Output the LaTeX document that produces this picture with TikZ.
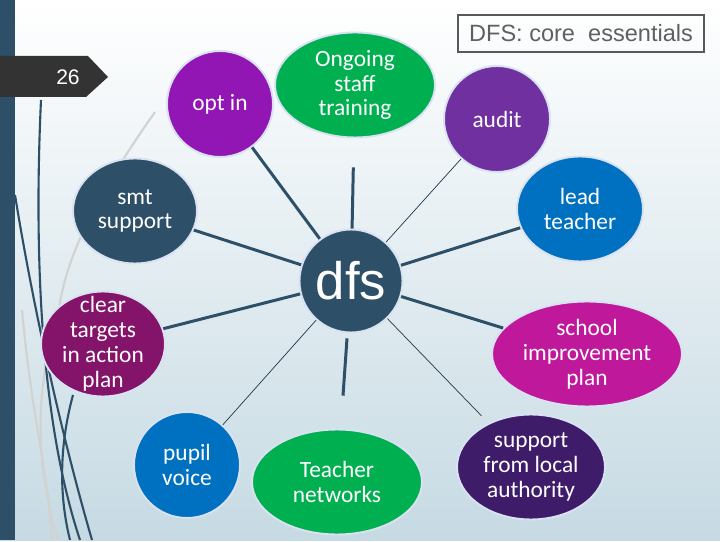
\documentclass[tikz,border=0pt]{standalone}
\usepackage{fontspec}
\setmainfont{Carlito}
\newfontfamily\arialfont{Liberation Sans}
\usetikzlibrary{shapes,arrows}
\definecolor{dfsblue}{HTML}{2D4F67}
\definecolor{optpurple}{HTML}{9216B4}
\definecolor{auditpurple}{HTML}{7030A0}
\definecolor{dfsgreen}{HTML}{00B050}
\definecolor{leadblue}{HTML}{0070C0}
\definecolor{targetplum}{HTML}{84146A}
\definecolor{schoolpink}{HTML}{C0189A}
\definecolor{lapurple}{HTML}{3E1C6A}
\definecolor{rim}{HTML}{D8E2F2}
\definecolor{bgmid}{HTML}{E3EDF1}
\definecolor{bgbottom}{HTML}{C6DAE3}
\definecolor{tabgray}{HTML}{333333}
\tikzstyle{bubble} = [circle, draw=rim, line width=1.1pt, text=white, align=center,
    inner sep=0pt, minimum size=21.2mm, font=\fontsize{13.3}{14.2}\selectfont]
\tikzstyle{oval} = [ellipse, draw=rim, line width=1.1pt, text=white, align=center,
    inner sep=0pt, minimum height=21mm, font=\fontsize{13.3}{14.2}\selectfont]
\tikzstyle{spoke} = [draw, line width=1.7pt, dfsblue]
\tikzstyle{thin_spoke} = [draw, line width=0.4pt, dfsblue!70!black]
\tikzstyle{wisp} = [draw, line width=1.2pt, dfsblue]
\tikzstyle{wisp_gray} = [draw, line width=1.2pt, gray!35]

\begin{document}
\begin{tikzpicture}[x=0.2mm, y=-0.2mm]
    % Background
    \shade [top color=white, middle color=bgmid, bottom color=bgbottom] (0,0) rectangle (720,540);
    \fill [dfsblue] (0,0) rectangle (15,540);
    \path [wisp_gray] (155,112) .. controls (100,190) and (62,260) .. (58,320);
    \path [wisp_gray] (58,320) .. controls (30,400) and (40,480) .. (58,540);
    \path [wisp_gray] (22,310) .. controls (32,420) and (48,470) .. (52,540);
    \path [wisp] (41,100) .. controls (34,250) and (40,420) .. (80,540);
    \path [wisp] (15,195) .. controls (32,300) and (60,430) .. (92,540);
    \path [wisp] (73,395) .. controls (58,450) and (60,500) .. (70,540);
    \fill [tabgray] (0,56) -- (88,56) -- (108,77) -- (86,97) -- (0,97) -- cycle;
    \node [text=white, font=\arialfont\fontsize{12}{14}\selectfont] (page) at (68,77) {26};

    % Place nodes
    \node [draw=gray!70!black, line width=0.6pt, text=gray!75!black, inner sep=0pt,
        minimum width=49.2mm, minimum height=7.4mm,
        font=\arialfont\fontsize{13.4}{16}\selectfont] (title) at (581,33.5) {DFS: core\ \ essentials};
    \node [bubble, fill=dfsblue, minimum size=20.6mm, font=\arialfont\fontsize{30}{32}\selectfont] (dfs) at (351,281) {dfs};
    \node [bubble, fill=optpurple] (optin) at (220,104) {opt in};
    \node [oval, fill=dfsgreen, minimum width=32mm] (training) at (355,85) {Ongoing\\staff\\training};
    \node [bubble, fill=auditpurple] (audit) at (497,119) {audit};
    \node [oval, fill=leadblue, minimum width=25.2mm] (lead) at (580,209) {lead\\teacher};
    \node [oval, fill=dfsblue, minimum width=24.8mm] (smt) at (135,211) {smt\\support};
    \node [oval, fill=targetplum, minimum width=24.8mm, inner sep=-3mm] (targets) at (103,344) {clear\\targets\\in action\\plan};
    \node [oval, fill=schoolpink, minimum width=38mm] (sip) at (587,354) {school\\improvement\\plan};
    \node [bubble, fill=leadblue] (pupil) at (187,465) {pupil\\voice};
    \node [oval, fill=dfsgreen, minimum width=34mm] (networks) at (337,482) {Teacher\\networks};
    \node [oval, fill=lapurple, minimum width=29.6mm] (la) at (531,467) {support\\from local\\authority};

    % Draw edges
    \path [spoke] (dfs) -- (optin);
    \path [spoke, shorten >=5.8mm] (dfs) -- (training);
    \path [thin_spoke] (dfs) -- (audit);
    \path [spoke] (dfs) -- (lead);
    \path [spoke] (dfs) -- (smt);
    \path [spoke] (dfs) -- (targets);
    \path [spoke] (dfs) -- (sip);
    \path [thin_spoke] (dfs) -- (pupil);
    \path [spoke, shorten <=1mm, shorten >=6.6mm] (dfs) -- (networks);
    \path [thin_spoke, shorten >=2mm] (dfs) -- (la);
\end{tikzpicture}
\end{document}
